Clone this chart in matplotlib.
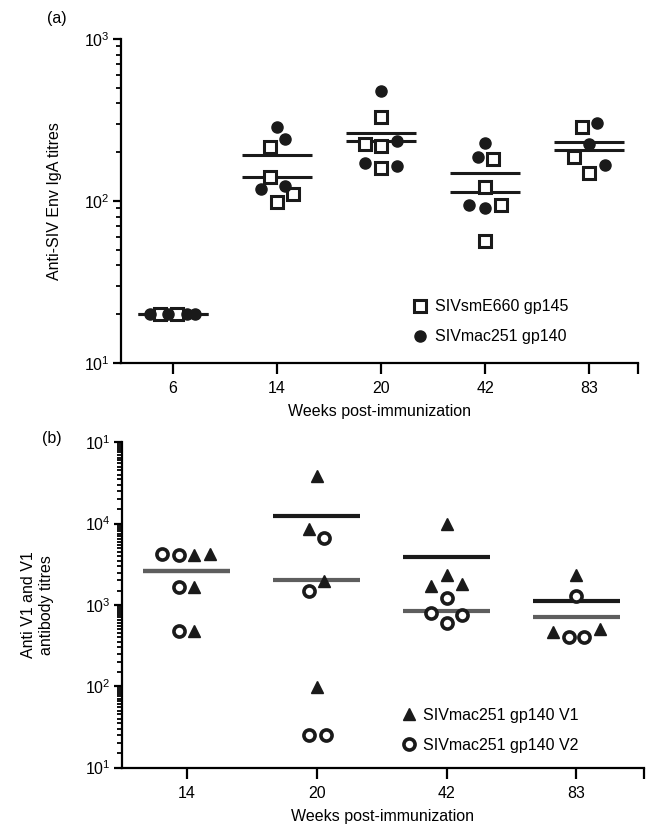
import numpy as np
import matplotlib
matplotlib.use('Agg')
import matplotlib.pyplot as plt
from matplotlib.ticker import FixedLocator, LogLocator, NullFormatter
from matplotlib.lines import Line2D

plt.rcParams['font.family'] = ['Liberation Sans', 'DejaVu Sans']
plt.rcParams['mathtext.fontset'] = 'custom'
plt.rcParams['mathtext.rm'] = 'Liberation Sans'
plt.rcParams['font.size'] = 11

# ---- panel (a): anti-SIV Env IgA titres ----
weeks_a = ['6', '14', '20', '42', '83']
sme660 = [[20, 20], [214, 141, 110, 99], [330, 225, 219, 160],
          [181, 122, 95, 57], [288, 186, 148]]
mac251 = [[20, 20, 20, 20], [285, 240, 124, 119], [477, 235, 172, 164],
          [228, 187, 94, 90], [305, 226, 167]]
# horizontal scatter of the points (category units)
sme660_dx = [[-0.125, 0.04], [-0.07, -0.07, 0.15, 0.0], [0.0, -0.15, 0.0, 0.0],
             [0.08, 0.0, 0.15, 0.0], [-0.07, -0.15, 0.0]]
mac251_dx = [[-0.22, -0.045, 0.13, 0.21], [0.0, 0.08, 0.08, -0.15],
             [0.0, 0.15, -0.15, 0.15], [0.0, -0.07, -0.15, 0.0], [0.08, 0.0, 0.15]]

# ---- panel (b): anti V1 / V2 antibody titres ----
weeks_b = ['14', '20', '42', '83']
v1 = [[4100, 4190, 1675, 482], [38500, 8510, 1990, 97],
      [9800, 2310, 1722, 1807], [2333, 469, 509]]
v2 = [[4190, 4070, 1675, 482], [6590, 1470, 25, 25],
      [1227, 802, 752, 593], [1298, 407, 407]]
v1_dx = [[0.06, 0.18, 0.06, 0.06], [0.0, -0.06, 0.06, 0.0],
         [0.0, 0.0, -0.12, 0.12], [0.0, -0.18, 0.18]]
v2_dx = [[-0.19, -0.06, -0.06, -0.06], [0.06, -0.06, -0.06, 0.07],
         [0.0, -0.12, 0.12, 0.0], [0.0, -0.06, 0.06]]

fig = plt.figure(figsize=(6.48, 8.27), dpi=100)
W, H = 648, 827
ax_a = fig.add_axes([121/W, 1-363/H, (638-121)/W, (363-39)/H])
ax_b = fig.add_axes([121.7/W, 1-767.5/H, (644-121.7)/W, (767.5-442.3)/H])


def style_axes(ax, n, xmax, weeks, ymajor, ylabels, subs):
    for s in ['top', 'right']:
        ax.spines[s].set_visible(False)
    for s in ['left', 'bottom']:
        ax.spines[s].set_linewidth(1.6)
    ax.set_yscale('log')
    ax.set_xlim(-0.5, xmax)
    ax.set_ylim(ymajor[0], ymajor[-1])
    ax.set_xticks(list(range(n)) + [xmax])
    ax.set_xticklabels(weeks + [''], fontsize=11.5)
    ax.yaxis.set_major_locator(FixedLocator(ymajor))
    ax.set_yticklabels(ylabels, fontsize=11.5)
    ax.yaxis.set_minor_locator(LogLocator(base=10, subs=subs, numticks=50))
    ax.yaxis.set_minor_formatter(NullFormatter())
    ax.tick_params(axis='x', direction='out', length=8, width=1.6, pad=5)
    ax.tick_params(axis='y', which='major', direction='out', length=6, width=1.6, pad=2)
    ax.tick_params(axis='y', which='minor', direction='out', length=3.5, width=1.3)
    ax.set_xlabel('Weeks post-immunization', fontsize=11.5, labelpad=6)


# panel (a)
for i in range(len(weeks_a)):
    ax_a.hlines(np.mean(mac251[i]), i-1/3, i+1/3, color='#1a1a1a', lw=2.2, zorder=2)
    ax_a.hlines(np.mean(sme660[i]), i-1/3, i+1/3, color='#1a1a1a', lw=2.2, zorder=2)
    ax_a.plot(i + np.array(sme660_dx[i]), sme660[i], 's', mfc='white',
              mec='#1a1a1a', mew=2.2, ms=8, zorder=3, clip_on=False)
    ax_a.plot(i + np.array(mac251_dx[i]), mac251[i], 'o', color='#1a1a1a',
              ms=8, mec='#1a1a1a', zorder=4, clip_on=False)

style_axes(ax_a, len(weeks_a), 4.47, weeks_a, [10, 100, 1000],
           [r'$\mathregular{10^1}$', r'$\mathregular{10^2}$', r'$\mathregular{10^3}$'],
           np.arange(2, 10))
ax_a.set_ylabel('Anti-SIV Env IgA titres', fontsize=11.5)
ax_a.yaxis.set_label_coords(-0.115, 0.5)

h_a = [Line2D([], [], ls='', marker='s', mfc='white', mec='#1a1a1a', mew=2.2, ms=8),
       Line2D([], [], ls='', marker='o', color='#1a1a1a', ms=8)]
ax_a.legend(h_a, ['SIVsmE660 gp145', 'SIVmac251 gp140'], loc='center left',
            bbox_to_anchor=(0.562, 0.127), frameon=False, handlelength=1,
            handletextpad=0.45, borderpad=0, borderaxespad=0, labelspacing=0.95,
            fontsize=11.5)

# panel (b)
for i in range(len(weeks_b)):
    ax_b.hlines(np.mean(v1[i]), i-1/3, i+1/3, color='#1a1a1a', lw=3, zorder=2)
    ax_b.hlines(np.mean(v2[i]), i-1/3, i+1/3, color='#5e5e5e', lw=3, zorder=2)
    ax_b.plot(i + np.array(v1_dx[i]), v1[i], '^', color='#1a1a1a', ms=9,
              zorder=3, clip_on=False)
    ax_b.plot(i + np.array(v2_dx[i]), v2[i], 'o', mfc='white', mec='#1a1a1a',
              mew=2.6, ms=8, zorder=4, clip_on=False)

style_axes(ax_b, len(weeks_b), 3.52, weeks_b, [10, 100, 1000, 1e4, 1e5],
           [r'$\mathregular{10^1}$', r'$\mathregular{10^2}$', r'$\mathregular{10^3}$',
            r'$\mathregular{10^4}$', r'$\mathregular{10^1}$'],
           np.arange(1.5, 10, 0.5))
ax_b.set_ylabel('Anti V1 and V1\nantibody titres', fontsize=11.5)
ax_b.yaxis.set_label_coords(-0.13, 0.5)

h_b = [Line2D([], [], ls='', marker='^', color='#1a1a1a', ms=9),
       Line2D([], [], ls='', marker='o', mfc='white', mec='#1a1a1a', mew=2.6, ms=8)]
ax_b.legend(h_b, ['SIVmac251 gp140 V1', 'SIVmac251 gp140 V2'], loc='center left',
            bbox_to_anchor=(0.534, 0.115), frameon=False, handlelength=1,
            handletextpad=0.4, borderpad=0, borderaxespad=0, labelspacing=0.95,
            fontsize=11.5)

fig.text(47/W, 1-19/H, '(a)', fontsize=11.5, va='center', ha='left')
fig.text(42/W, 1-439/H, '(b)', fontsize=11.5, va='center', ha='left')

fig.savefig('out.png', dpi=100)
